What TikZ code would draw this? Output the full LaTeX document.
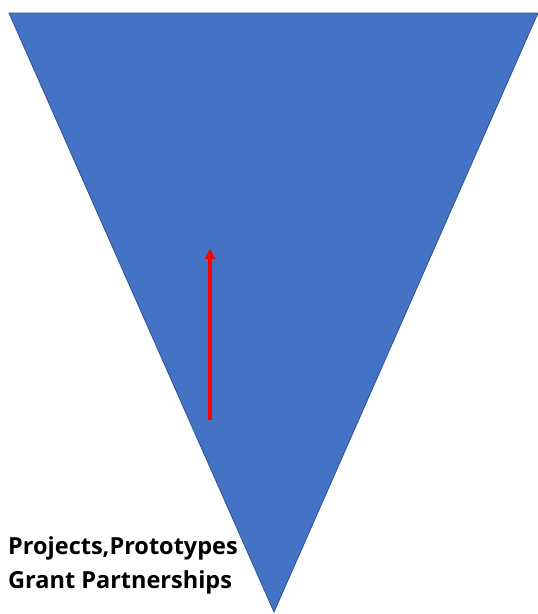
\documentclass[tikz,border=0pt]{standalone}
\usepackage{fontspec}
\setmainfont{Open Sans}
\usetikzlibrary{arrows.meta}
\definecolor{tri}{HTML}{4472C4}
\definecolor{triedge}{HTML}{2F528F}
\tikzset{
  funnel/.style={fill=tri, draw=triedge, line width=0.8pt},
  redarrow/.style={draw=red, line width=3.5pt, -{Triangle[length=10pt,width=10pt]}},
  lbl/.style={font=\bfseries\fontsize{23.5}{33}\selectfont, anchor=base west, inner sep=0pt, align=left}
}
\begin{document}
\begin{tikzpicture}[x=1pt,y=-1pt]
\useasboundingbox (0,0) rectangle (538,614);
\coordinate (tl) at (9,13);
\coordinate (tr) at (538,13);
\coordinate (ap) at (274,612);
\filldraw[funnel] (tl) -- (tr) -- (ap) -- cycle;
\coordinate (as) at (210,420);
\coordinate (ae) at (210,249);
\draw[redarrow] (as) -- (ae);
\node[lbl] (txt) at (8,554) {Projects,Prototypes};
\node[lbl] (txt2) at (8,588) {Grant Partnerships};
\end{tikzpicture}
\end{document}
